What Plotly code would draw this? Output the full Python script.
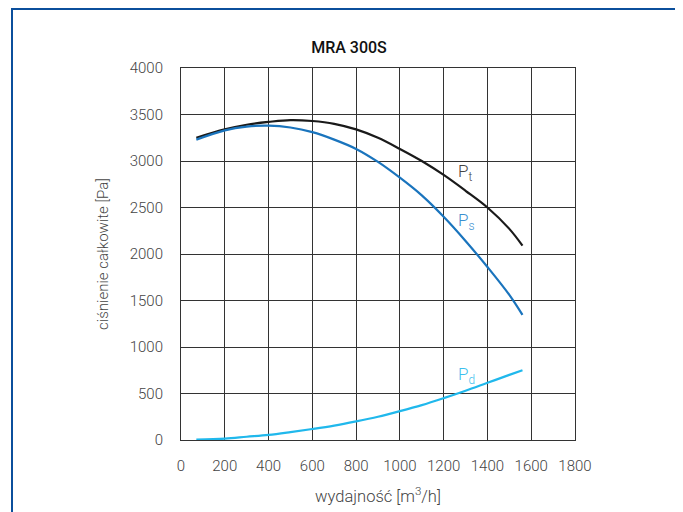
import plotly.graph_objects as go

flow = [70, 200, 300, 400, 500, 600, 700, 800, 900, 1000, 1100, 1200, 1300, 1400, 1500, 1560]
p_total = [3250, 3340, 3390, 3420, 3440, 3430, 3400, 3340, 3250, 3130, 3000, 2850, 2680, 2500, 2270, 2090]
p_static = [3230, 3330, 3370, 3380, 3360, 3310, 3230, 3130, 2990, 2820, 2630, 2400, 2140, 1860, 1560, 1345]
p_dynamic = [5, 15, 35, 55, 85, 118, 155, 200, 250, 310, 375, 450, 530, 615, 700, 750]

x_ticks = [0, 200, 400, 600, 800, 1000, 1200, 1400, 1600, 1800]
y_ticks = [0, 500, 1000, 1500, 2000, 2500, 3000, 3500, 4000]

FONT = "Roboto"
fig = go.Figure()
fig.add_trace(go.Scatter(x=flow, y=p_total, mode="lines", line=dict(color="#1a1a1a", width=2.2, shape="spline"), showlegend=False))
fig.add_trace(go.Scatter(x=flow, y=p_static, mode="lines", line=dict(color="#1a74bd", width=2.2, shape="spline"), showlegend=False))
fig.add_trace(go.Scatter(x=flow, y=p_dynamic, mode="lines", line=dict(color="#20b8ec", width=2.2, shape="spline"), showlegend=False))

fig.add_annotation(x=1258, y=2880, text="P<sub>t</sub>", showarrow=False, xanchor="left",
                   font=dict(family=FONT, size=17, color="#444444", weight=300))
fig.add_annotation(x=1258, y=2354, text="P<sub>s</sub>", showarrow=False, xanchor="left",
                   font=dict(family=FONT, size=17, color="#3a8fd0", weight=300))
fig.add_annotation(x=1258, y=698, text="P<sub>d</sub>", showarrow=False, xanchor="left",
                   font=dict(family=FONT, size=17, color="#3bbfee", weight=300))

# page body has an 8px offset; positions below are figure coordinates
L, R, T, B = 173, 116, 60, 80
W, H = 683, 512
pw, ph = W - L - R, H - T - B
def px(xp):
    return (xp - L) / pw
def py(yp):
    return 1 - (yp - T) / ph

fig.add_shape(type="rect", xref="paper", yref="paper",
              x0=px(4), x1=px(668), y0=py(530), y1=py(1),
              line=dict(color="#0b4f9c", width=2), layer="below")

fig.update_layout(
    width=W, height=H,
    margin=dict(l=L, r=R, t=T, b=B),
    paper_bgcolor="white", plot_bgcolor="white",
    title=dict(text="MRA 300S", x=341 / W, xref="container", xanchor="center",
               y=1 - 39 / H, yref="container", yanchor="middle",
               font=dict(family=FONT, size=16, color="#111111", weight=500)),
    font=dict(family=FONT, color="#444444", size=15),
)
fig.update_xaxes(range=[0, 1800], tickvals=x_ticks, showgrid=True, gridcolor="#333333", gridwidth=1,
                 showline=True, linecolor="#333333", linewidth=1, mirror=True, zeroline=False,
                 ticks="", ticklabelstandoff=12,
                 title=dict(text="wydajność [m<sup>3</sup>/h]", standoff=16,
                            font=dict(size=16.5, color="#444444", weight=300)),
                 tickfont=dict(size=15, color="#444444", weight=300))
fig.update_yaxes(range=[0, 4000], tickvals=y_ticks, showgrid=True, gridcolor="#333333", gridwidth=1,
                 showline=True, linecolor="#333333", linewidth=1, mirror=True, zeroline=False,
                 ticks="", ticklabelstandoff=14,
                 title=dict(text="ciśnienie całkowite [Pa]", standoff=17,
                            font=dict(size=15, color="#444444", weight=300)),
                 tickfont=dict(size=15, color="#444444", weight=300))

fig.write_html("out.html")
